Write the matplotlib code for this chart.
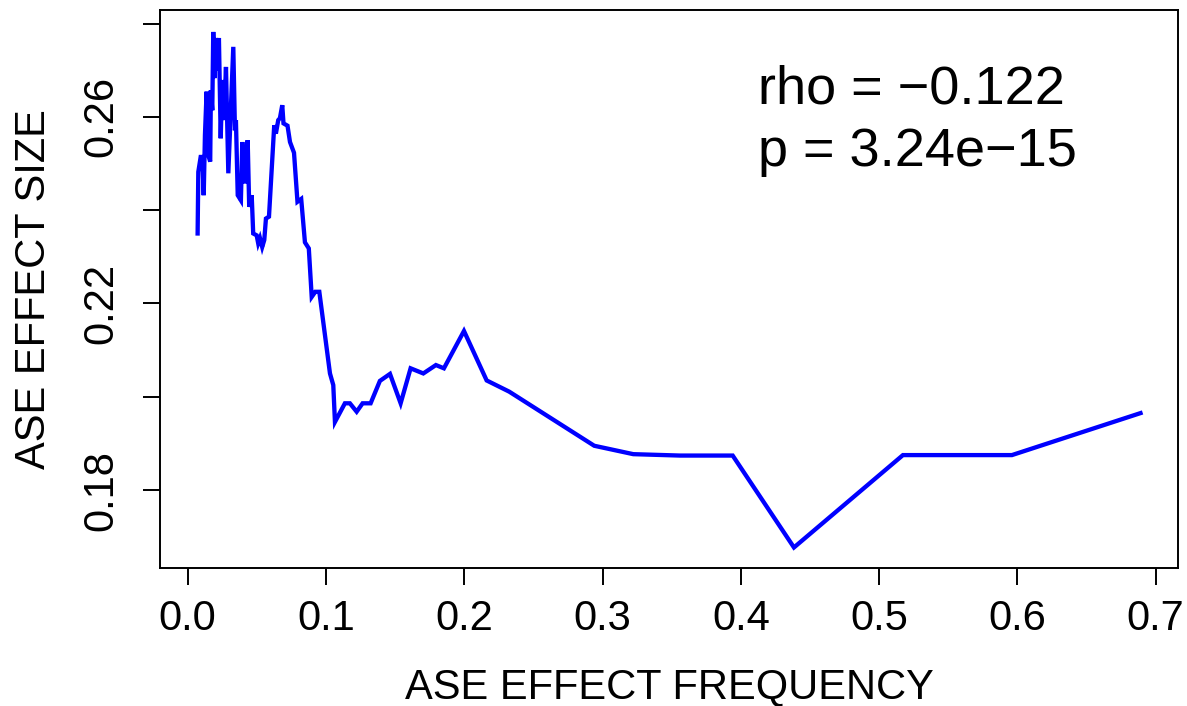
import matplotlib
matplotlib.use("Agg")
import matplotlib.pyplot as plt

plt.rcParams['font.family'] = ['Liberation Sans', 'DejaVu Sans']

freq = [0.0072, 0.0077, 0.0094, 0.0106, 0.0116, 0.0125, 0.0137, 0.0145, 0.0163, 0.0168,
        0.0178, 0.0185, 0.0195, 0.0205, 0.0214, 0.0226, 0.0239, 0.0250, 0.0262, 0.0277,
        0.0294, 0.0330, 0.0342, 0.0349, 0.0362, 0.0385, 0.0395, 0.0414, 0.0434, 0.0445,
        0.0463, 0.0474, 0.0499, 0.0510, 0.0523, 0.0539, 0.0554, 0.0566, 0.0588, 0.0626,
        0.0638, 0.0655, 0.0667, 0.0684, 0.0693, 0.0722, 0.0740, 0.0769, 0.0794, 0.0821,
        0.0848, 0.0876, 0.0897, 0.0923, 0.0952, 0.1029, 0.1053, 0.1065, 0.1137, 0.1173,
        0.1222, 0.1265, 0.1323, 0.1390, 0.1463, 0.1540, 0.1612, 0.1704, 0.1795, 0.1853,
        0.1998, 0.2162, 0.2325, 0.2940, 0.3222, 0.3560, 0.3941, 0.4384, 0.5172, 0.5960,
        0.6890]
effect = [0.2350, 0.2482, 0.2514, 0.2514, 0.2432, 0.2561, 0.2654, 0.2522, 0.2504, 0.2657,
          0.2614, 0.2782, 0.2683, 0.2769, 0.2700, 0.2769, 0.2554, 0.2679, 0.2593, 0.2707,
          0.2479, 0.2750, 0.2571, 0.2593, 0.2432, 0.2421, 0.2546, 0.2457, 0.2550, 0.2407,
          0.2432, 0.2350, 0.2346, 0.2329, 0.2340, 0.2321, 0.2336, 0.2382, 0.2386, 0.2582,
          0.2564, 0.2593, 0.2597, 0.2625, 0.2586, 0.2581, 0.2546, 0.2523, 0.2418, 0.2424,
          0.2331, 0.2318, 0.2214, 0.2225, 0.2225, 0.2050, 0.2025, 0.1946, 0.1986, 0.1986,
          0.1968, 0.1986, 0.1986, 0.2034, 0.2049, 0.1986, 0.2061, 0.2050, 0.2068, 0.2061,
          0.2141, 0.2035, 0.2011, 0.1895, 0.1877, 0.1874, 0.1874, 0.1677, 0.1875, 0.1875,
          0.1965]

x_ticks = [0.0, 0.1, 0.2, 0.3, 0.4, 0.5, 0.6, 0.7]
x_labels = ["0.0", "0.1", "0.2", "0.3", "0.4", "0.5", "0.6", "0.7"]
y_ticks = [0.18, 0.20, 0.22, 0.24, 0.26, 0.28]
y_labels = ["0.18", "", "0.22", "", "0.26", ""]
rho_text = "rho = \u22120.122"
p_text = "p = 3.24e\u221215"

W, H = 1187, 706
fig = plt.figure(figsize=(W / 100, H / 100), dpi=100)
ax = fig.add_axes([160 / W, (H - 568) / H, (1178 - 160) / W, (568 - 10) / H])

ax.plot(freq, effect, color='#0000FF', lw=3.1, solid_joinstyle='miter')

ax.set_xlim(-0.0200, 0.7161)
ax.set_ylim(0.1633, 0.2829)
ax.set_xticks(x_ticks)
ax.set_xticklabels(x_labels)
ax.set_yticks(y_ticks)
ax.set_yticklabels(y_labels, rotation=90, va='center')

for s in ax.spines.values():
    s.set_linewidth(1.4)
ax.tick_params(axis='both', direction='out', length=12.5, width=1.4, labelsize=30)
ax.tick_params(axis='x', pad=10)
ax.tick_params(axis='y', pad=15)

fig.text(669 / W, 1 - 698 / H, "ASE EFFECT FREQUENCY", ha='center', va='baseline', fontsize=30)
fig.text(34 / W, 1 - 289 / H, "ASE EFFECT SIZE", ha='center', va='center', rotation=90, fontsize=30)

fig.text(758 / W, 1 - 104 / H, rho_text, ha='left', va='baseline', fontsize=39)
fig.text(758 / W, 1 - 166 / H, p_text, ha='left', va='baseline', fontsize=39)

fig.savefig("out.png", dpi=100)
